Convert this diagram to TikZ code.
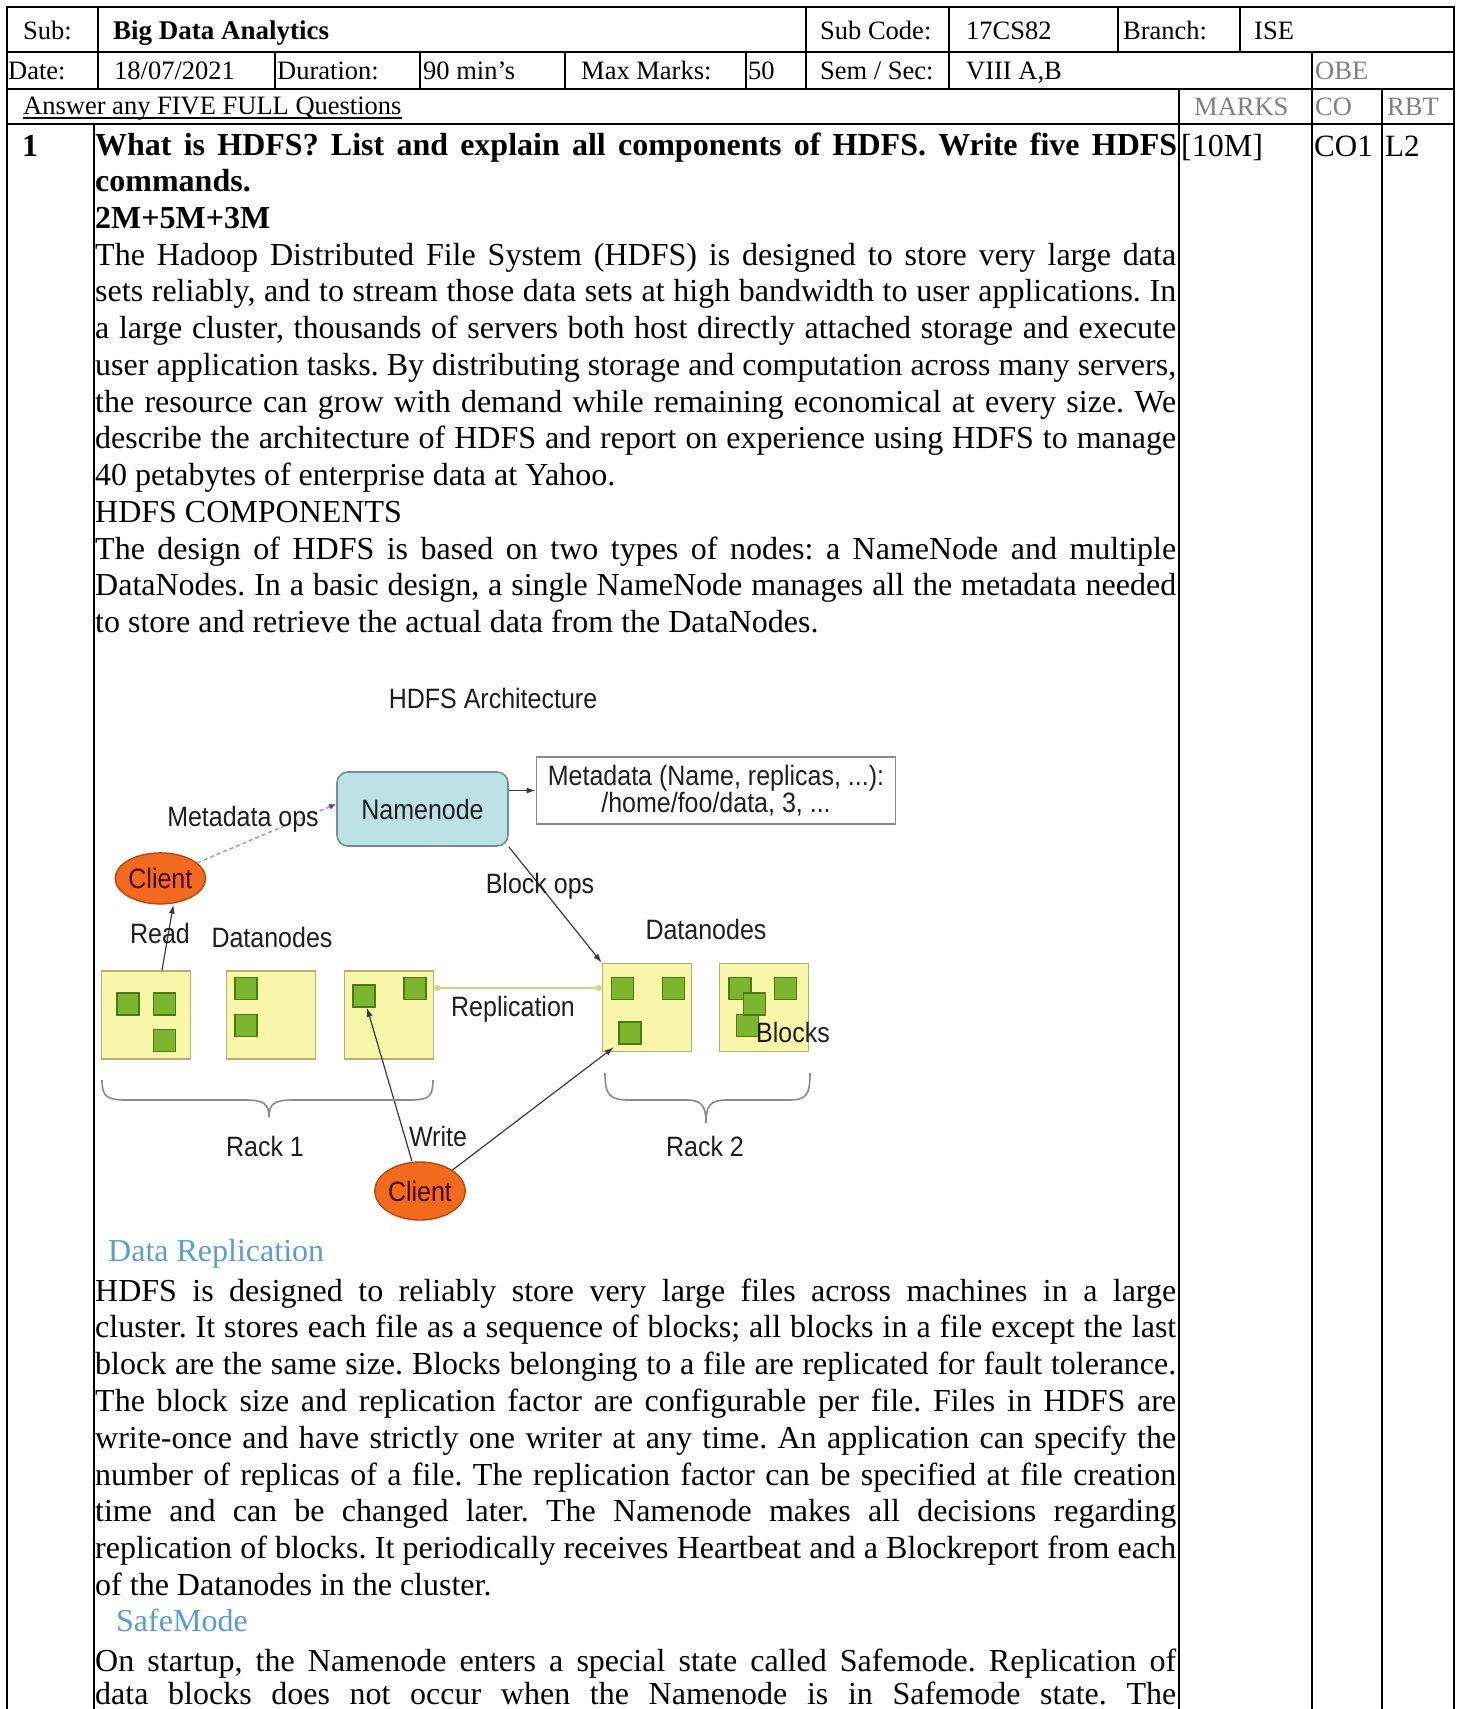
\documentclass[tikz,border=0pt]{standalone}
\usepackage{fontspec}
\setmainfont{Liberation Serif}
\newfontfamily\diag{Liberation Sans}
\usetikzlibrary{arrows.meta,shapes.geometric}
\definecolor{hgrey}{HTML}{7F7F7F}
\definecolor{accblue}{HTML}{5B9BD5}
\definecolor{dtext}{HTML}{1E1E1E}
\definecolor{nnfill}{HTML}{BDE2E6}
\definecolor{nnbord}{HTML}{6F9098}
\definecolor{mdbord}{HTML}{8A8A8A}
\definecolor{clfill}{HTML}{F26A1E}
\definecolor{clbord}{HTML}{B8470C}
\definecolor{cltext}{HTML}{3E0C02}
\definecolor{dnfill}{HTML}{F8F6A8}
\definecolor{dnbord}{HTML}{B4AF78}
\definecolor{blkfill}{HTML}{7CB62E}
\definecolor{blkbord}{HTML}{4D7A14}
\definecolor{replc}{HTML}{C3DB78}
\definecolor{arrc}{HTML}{3A3A3A}
\definecolor{dashc}{HTML}{A898A8}
\definecolor{purp}{HTML}{7A2E9A}
\definecolor{bracec}{HTML}{8A8A8A}
\newcommand{\dg}[1]{\scalebox{1}[1.12]{#1}}
\newcommand{\jus}[1]{\makebox[1081pt][s]{#1}}
\frenchspacing
\begin{document}
\begin{tikzpicture}[x=1pt,y=-1pt,
  tl/.style={line width=2.3pt,line cap=rect},
  hd/.style={anchor=base west,inner sep=0pt,font=\fontsize{26.5}{30}\selectfont},
  hg/.style={hd,text=hgrey},
  bt/.style={anchor=base west,inner sep=0pt,font=\fontsize{32}{36}\selectfont},
  bb/.style={anchor=base west,inner sep=0pt,font=\fontsize{32}{36}\selectfont\bfseries},
  bl/.style={bt,text=accblue},
  dl/.style={inner sep=0pt,font=\diag\fontsize{25}{27}\selectfont,text=dtext},
  dnbox/.style={draw=dnbord,fill=dnfill,line width=1.6pt,minimum width=89pt,minimum height=88pt,inner sep=0pt},
  blk/.style={draw=blkbord,fill=blkfill,line width=1.4pt,minimum size=22pt,inner sep=0pt},
  cl/.style={ellipse,draw=clbord,fill=clfill,line width=1.4pt,inner sep=0pt,font=\diag\fontsize{25}{27}\selectfont,text=cltext},
  arr/.style={-{Latex[length=9pt,width=6pt]},line width=1.2pt,draw=arrc},
]
\useasboundingbox (0,0) rectangle (1461,1709);
\fill[white] (0,0) rectangle (1461,1709);

% ---------- table lines ----------
\foreach \yy in {7,52,89,124} \draw[tl] (7,\yy) -- (1454,\yy);
\draw[tl] (7,7) -- (7,1712);
\draw[tl] (1454,7) -- (1454,1712);
\foreach \xx in {98,806,949,1118,1240} \draw[tl] (\xx,7) -- (\xx,52);
\foreach \xx in {98,275,420,565,746,806,949} \draw[tl] (\xx,52) -- (\xx,89);
\draw[tl] (1312,52) -- (1312,1712);
\draw[tl] (1179,89) -- (1179,1712);
\draw[tl] (1382,89) -- (1382,1712);
\draw[tl] (94,124) -- (94,1712);

% ---------- header texts ----------
\node[hd] (hsub) at (23,39) {Sub:};
\node[hd,font=\fontsize{27}{30}\selectfont\bfseries] (hsubv) at (113,39) {Big Data Analytics};
\node[hd] (hcode) at (820,39) {Sub Code:};
\node[hd] (hcodev) at (966,39) {17CS82};
\node[hd] (hbr) at (1123,39) {Branch:};
\node[hd] (hbrv) at (1254,39) {ISE};
\node[hd] (hdate) at (8,79) {Date:};
\node[hd] (hdatev) at (114,79) {18/07/2021};
\node[hd] (hdur) at (277,79) {Duration:};
\node[hd] (hdurv) at (423,79) {90 min’s};
\node[hd] (hmax) at (581,79) {Max Marks:};
\node[hd] (hmaxv) at (748,79) {50};
\node[hd] (hsem) at (820,79) {Sem / Sec:};
\node[hd] (hsemv) at (966,79) {VIII A,B};
\node[hg] (hobe) at (1315,79) {OBE};
\node[hd] (hans) at (23,114) {Answer any FIVE FULL Questions};
\draw[line width=1.5pt] ([yshift=-4pt]hans.base west) -- ([yshift=-4pt]hans.base east);
\node[hg] (hmarks) at (1194,115) {MARKS};
\node[hg] (hco) at (1315,115) {CO};
\node[hg] (hrbt) at (1387,115) {RBT};

% ---------- question row ----------
\node[bb] (qn) at (22,156) {1};
\node[bt] (qm) at (1181,156) {[10M]};
\node[bt,font=\fontsize{31}{36}\selectfont] (qco) at (1314,156) {CO1};
\node[bt,font=\fontsize{31}{36}\selectfont] (qrbt) at (1385,156) {L2};

\node[bb] (l1) at (95,155) {\makebox[1082pt][s]{What is HDFS? List and explain all components of HDFS. Write five HDFS}};
\node[bb] (l2) at (95,191.5) {commands.};
\node[bb] (l3) at (95,228) {2M+5M+3M};
\node[bt] (l4) at (95,265) {\jus{The Hadoop Distributed File System (HDFS) is designed to store very large data}};
\node[bt] (l5) at (95,301.75) {\jus{sets reliably, and to stream those data sets at high bandwidth to user applications. In}};
\node[bt] (l6) at (95,338.5) {\jus{a large cluster, thousands of servers both host directly attached storage and execute}};
\node[bt] (l7) at (95,375.25) {\jus{user application tasks. By distributing storage and computation across many servers,}};
\node[bt] (l8) at (95,412) {\jus{the resource can grow with demand while remaining economical at every size. We}};
\node[bt] (l9) at (95,448.75) {\jus{describe the architecture of HDFS and report on experience using HDFS to manage}};
\node[bt] (l10) at (95,485.5) {40 petabytes of enterprise data at Yahoo.};
\node[bt] (l11) at (95,522.25) {HDFS COMPONENTS};
\node[bt] (l12) at (95,559) {\jus{The design of HDFS is based on two types of nodes: a NameNode and multiple}};
\node[bt] (l13) at (95,595.75) {\jus{DataNodes. In a basic design, a single NameNode manages all the metadata needed}};
\node[bt] (l14) at (95,632.5) {to store and retrieve the actual data from the DataNodes.};

\node[bl] (h1) at (108,1261) {Data Replication};
\node[bt] (m1) at (95,1301) {\jus{HDFS is designed to reliably store very large files across machines in a large}};
\node[bt] (m2) at (95,1337.8) {\jus{cluster. It stores each file as a sequence of blocks; all blocks in a file except the last}};
\node[bt] (m3) at (95,1374.6) {\jus{block are the same size. Blocks belonging to a file are replicated for fault tolerance.}};
\node[bt] (m4) at (95,1411.4) {\jus{The block size and replication factor are configurable per file. Files in HDFS are}};
\node[bt] (m5) at (95,1448.2) {\jus{write-once and have strictly one writer at any time. An application can specify the}};
\node[bt] (m6) at (95,1485) {\jus{number of replicas of a file. The replication factor can be specified at file creation}};
\node[bt] (m7) at (95,1521.8) {\jus{time and can be changed later. The Namenode makes all decisions regarding}};
\node[bt] (m8) at (95,1558.6) {\jus{replication of blocks. It periodically receives Heartbeat and a Blockreport from each}};
\node[bt] (m9) at (95,1595.4) {of the Datanodes in the cluster.};
\node[bl] (h2) at (116,1631) {SafeMode};
\node[bt] (s1) at (95,1671) {\jus{On startup, the Namenode enters a special state called Safemode. Replication of}};
\node[bt] (s2) at (95,1704) {\jus{data blocks does not occur when the Namenode is in Safemode state. The}};

% ---------- diagram ----------
\node[dl] (title) at (493,698) {\dg{HDFS Architecture}};
\node[draw=nnbord,fill=nnfill,line width=1.6pt,rounded corners=11pt,minimum width=171pt,minimum height=74pt,inner sep=0pt,font=\diag\fontsize{25}{27}\selectfont,text=dtext] (nn) at (422.5,809) {\dg{Namenode}};
\node[draw=mdbord,fill=white,line width=1.8pt,minimum width=359pt,minimum height=67pt,inner sep=0pt,align=center,font=\diag\fontsize{25}{27}\selectfont,text=dtext] (meta) at (716,790.5) {\dg{Metadata (Name, replicas, ...):}\\\dg{/home/foo/data, 3, ...}};
\node[cl,minimum width=89pt,minimum height=51pt] (c1) at (160.4,878.4) {\dg{Client}};
\node[cl,minimum width=90pt,minimum height=58pt] (c2) at (420,1191) {\dg{Client}};

\node[dnbox] (dn1) at (146,1015) {};
\node[dnbox] (dn2) at (271,1015) {};
\node[dnbox] (dn3) at (389,1015) {};
\node[dnbox] (dn4) at (647,1007.5) {};
\node[dnbox] (dn5) at (764,1007.5) {};

\node[blk] (b11) at (128,1004) {};
\node[blk] (b12) at (164.5,1004) {};
\node[blk] (b13) at (164.5,1040.5) {};
\node[blk] (b21) at (246,988.5) {};
\node[blk] (b22) at (246,1025.5) {};
\node[blk] (b31) at (364,996) {};
\node[blk] (b32) at (415,988.5) {};
\node[blk] (b41) at (622.6,988.5) {};
\node[blk] (b42) at (673.5,988.5) {};
\node[blk] (b43) at (630,1033) {};
\node[blk] (b51) at (740,988.5) {};
\node[blk] (b52) at (785.5,988.5) {};
\node[blk] (b54) at (747.5,1025.5) {};
\node[blk] (b53) at (754.5,1004) {};

% connectors
\draw[arr] (nn.east |- meta.west) -- (meta.west);
\draw[dashc,line width=1.5pt,dash pattern=on 4pt off 3pt,-{Latex[length=7pt,width=6pt,color=purp]}] (c1) -- ([yshift=5pt]nn.west);
\draw[arr] ([xshift=16pt]dn1.north) -- ([xshift=13pt]c1.south);
\draw[arr] (nn.south east) -- (dn4.north west);
\draw[replc,line width=1.8pt,{Circle[length=6pt]}-{Circle[length=6pt]}] ([yshift=27pt]dn3.east) -- ([yshift=19.5pt]dn4.west);
\draw[arr] ([xshift=-8pt]c2.north) -- ([xshift=3pt]b31.south);
\draw[arr] (c2.north east) -- ([shift={(12pt,5pt)}]dn4.south west);

% braces
\draw[bracec,line width=1.6pt] (102,1080) .. controls (102,1098) and (108,1100) .. (128,1100) -- (245,1100) .. controls (264,1100) and (269,1104) .. (269,1117) .. controls (269,1104) and (274,1100) .. (293,1100) -- (408,1100) .. controls (428,1100) and (433,1098) .. (433,1080);
\draw[bracec,line width=1.6pt] (605,1073) .. controls (605,1096) and (610,1100) .. (630,1100) -- (686,1100) .. controls (702,1100) and (706,1106) .. (706,1123) .. controls (706,1106) and (710,1100) .. (726,1100) -- (788,1100) .. controls (806,1100) and (810,1096) .. (810,1073);

% labels
\node[dl] (lmo) at (243,819) {\dg{Metadata ops}};
\node[dl] (lbo) at (540,886) {\dg{Block ops}};
\node[dl] (lread) at (160,933) {\dg{Read}};
\node[dl] (ldn1) at (272,937) {\dg{Datanodes}};
\node[dl] (ldn2) at (706,929) {\dg{Datanodes}};
\node[dl] (lrep) at (513,1009) {\dg{Replication}};
\node[dl] (lblk) at (793,1032) {\dg{Blocks}};
\node[dl] (lwr) at (438,1136) {\dg{Write}};
\node[dl] (lr1) at (265,1146) {\dg{Rack 1}};
\node[dl] (lr2) at (705,1146) {\dg{Rack 2}};
\end{tikzpicture}
\end{document}
